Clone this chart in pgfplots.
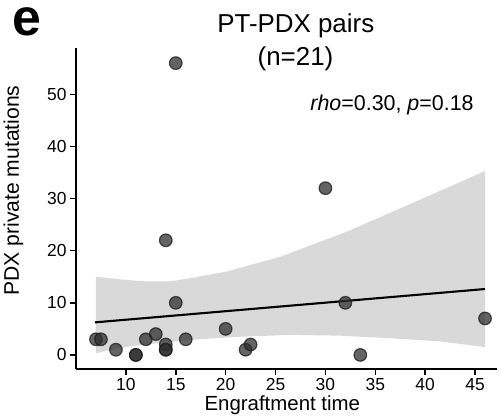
\documentclass[border=0pt]{standalone}
\usepackage{pgfplots}
\pgfplotsset{compat=1.18}
\usepackage{fontspec}
\setmainfont{Liberation Sans}
\definecolor{band}{HTML}{D9D9D9}
\begin{document}
\begin{tikzpicture}[x=1bp,y=1bp]
\begin{axis}[
  at={(0,0)}, anchor=south west,
  scale only axis, width=421bp, height=321bp,
  xmin=5.0, xmax=47.2, ymin=-2.7, ymax=58.9,
  axis lines=left,
  axis line style={-, line width=2bp},
  every outer x axis line/.append style={-},
  every outer y axis line/.append style={-},
  xtick={10,15,...,45}, ytick={0,10,...,50},
  tick align=outside, major tick length=6bp,
  tick style={line width=1.5bp, black},
  ticklabel style={font=\fontsize{17.5}{20}\selectfont},
  /pgf/number format/assume math mode=true,
  xlabel={Engraftment time}, ylabel={PDX private mutations},
  every axis x label/.style={at={(axis description cs:0.49,0)}, anchor=base, yshift=-41.7bp, font=\fontsize{20.5}{24}\selectfont},
  every axis y label/.style={at={(axis description cs:0,0.556)}, anchor=base, xshift=-57bp, rotate=90, font=\fontsize{21.2}{24}\selectfont},
  clip=false,
]
% confidence band (upper edge left to right, lower edge right to left)
\addplot[fill=band, draw=none] coordinates {
  (7,15.0) (10,14.4) (12,14.1) (14.4,14.1) (17,14.9) (20.1,16.0) (25.5,18.85)
  (32.2,23.7) (38.9,29.3) (46,35.3)
  (46,1.5) (41.5,2.6) (36.5,3.2) (31.5,3.7) (26.5,3.85) (21.5,3.5) (16.5,2.9)
  (11.4,1.9) (9,1.2) (7,0.33)
} -- cycle;
% regression line
\addplot[black, line width=2.1bp] coordinates {(6.9,6.25) (46,12.65)};
% points
\addplot[only marks, mark=*, mark size=6.3bp,
  mark options={fill=black!82, draw=black!90, line width=1.2bp, opacity=0.74}]
  coordinates {
  (7,3) (7.5,3) (9,1) (11,0) (11,0) (12,3) (13,4) (14,2) (14,1) (14,1)
  (15,10) (16,3) (20,5) (22,1) (22.5,2) (32,10) (33.5,0) (46,7)
  (15,56) (14,22) (30,32)
};
\end{axis}
\node[anchor=base west, inner sep=0pt, text height=28bp, text depth=0pt, font=\fontsize{52}{52}\bfseries\selectfont] at (-63.8,333.3) {e};
\node[anchor=base, font=\fontsize{26}{30}\selectfont] at (219.8,336.3) {PT-PDX pairs};
\node[anchor=base, font=\fontsize{26}{30}\selectfont] at (219.5,304) {(n=21)};
\node[anchor=base, font=\fontsize{21.5}{24}\selectfont] at (316,259) {\textit{rho}=0.30, \textit{p}=0.18};
\pgfresetboundingbox
\path[use as bounding box] (-76,-48) rectangle (423,369);
\end{tikzpicture}
\end{document}
